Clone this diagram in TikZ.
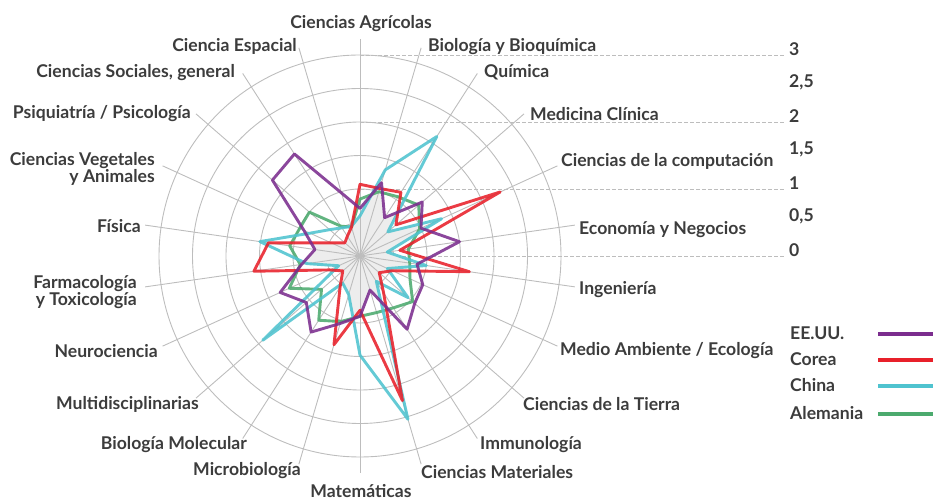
\documentclass[tikz,border=0pt]{standalone}
\usepackage{fontspec}
\setmainfont{Lato}
\usepackage{tikz}
\usetikzlibrary{calc}

\definecolor{usa}{HTML}{7B2D8E}
\definecolor{kor}{HTML}{E8202A}
\definecolor{chn}{HTML}{4FC3CF}
\definecolor{ger}{HTML}{4CAA6E}
\definecolor{txt}{HTML}{3C3C3C}
\definecolor{gridgray}{HTML}{BDBDBD}

\tikzset{
  lab/.style={inner sep=0pt,font=\fontsize{17.6}{16.5}\selectfont\bfseries,text=txt},
  gridline/.style={draw=gridgray,line width=0.9pt},
  series/.style={line width=2.9pt,line join=round,opacity=0.88}
}

% radar corners: name, 22 values
\newcommand{\RadarPts}[2]{%
  \foreach \v [count=\k from 0] in {#2}
    \coordinate (#1\k) at ($(C)+({90-\k*360/22}:{\v*67})$);
}
% closed path through the corners of one series
\newcommand{\RadarPath}[1]{(#10) \foreach \k in {1,...,21}{ -- (#1\k)} -- cycle}

\begin{document}
\begin{tikzpicture}[x=1pt,y=1pt]
  \useasboundingbox (0,0) rectangle (933,500);
  \coordinate (C) at (360,244);

  \RadarPts{ger}{0.85,1.0,1.05,1.16,0.98,0.73,0.75,0.82,1.04,0.92,0.88,0.9,1.02,1.14,0.76,1.16,0.9,1.06,0.99,1.0,0.53,0.45}
  \RadarPts{chn}{0.6,1.34,2.12,0.55,1.34,0.41,1.0,0.45,0.95,0.45,2.54,1.48,0.6,0.48,1.92,0.35,0.8,1.51,0.82,0.6,0.5,0.46}
  \RadarPts{kor}{1.07,1.05,1.13,0.71,2.3,0.6,1.65,0.53,0.38,0.65,2.25,0.81,1.38,0.55,0.34,0.5,1.6,1.38,0.47,0.3,0.35,0.45}
  \RadarPts{usa}{0.71,1.14,0.68,1.23,1.0,1.5,0.86,1.03,1.08,1.3,0.53,0.9,1.05,1.35,1.06,1.31,0.88,0.68,0.92,1.73,1.81,0.98}

  % rings and scale
  \foreach \r in {0.5,1,...,3}
    \draw[gridline] (C) circle ({\r*67});
  \foreach \v/\t in {0/0,0.5/{0,5},1/1,1.5/{1,5},2/2,2.5/{2,5},3/3}{
    \coordinate (s\v) at ($(C)+(0,{\v*67})$);
    \coordinate (t\v) at (785,{244+\v*67});
    \draw[gridgray,line width=0.8pt,dash pattern=on 3.5pt off 2.5pt] (s\v) -- (t\v);
    \node[lab,anchor=west] (n\v) at (789,{250+\v*67}) {\t};
  }

  % common core of the four series
  \begin{scope}
    \clip \RadarPath{ger};
    \clip \RadarPath{chn};
    \clip \RadarPath{kor};
    \fill[black!7] \RadarPath{usa};
  \end{scope}

  % spokes
  \foreach \k in {0,...,21}{
    \coordinate (e\k) at ($(C)+({90-\k*360/22}:217)$);
    \draw[gridline] (C) -- (e\k);
  }

  % labels
  \node[lab] (agr) at (361,476) {Ciencias Agrícolas};
  \node[lab,anchor=west] (bio) at (428,453) {Biología y Bioquímica};
  \node[lab,anchor=west] (qui) at (484,428) {Química};
  \node[lab,anchor=west] (med) at (530,386) {Medicina Clínica};
  \node[lab,anchor=west] (com) at (561,339) {Ciencias de la computación};
  \node[lab,anchor=west] (eco) at (579,270) {Economía y Negocios};
  \node[lab,anchor=west] (ing) at (579,210) {Ingeniería};
  \node[lab,anchor=west] (amb) at (560,149) {Medio Ambiente / Ecología};
  \node[lab,anchor=west] (tie) at (523,96) {Ciencias de la Tierra};
  \node[lab,anchor=west] (inm) at (480,55) {Immunología};
  \node[lab,anchor=west] (mat) at (421,28) {Ciencias Materiales};
  \node[lab] (mtm) at (361,9) {Matemáticas};
  \node[lab,anchor=east] (mic) at (301,29) {Microbiología};
  \node[lab,anchor=east] (mol) at (247,55) {Biología Molecular};
  \node[lab,anchor=east] (mul) at (199,96) {Multidisciplinarias};
  \node[lab,anchor=east] (neu) at (158,149) {Neurociencia};
  \node[lab,anchor=east,align=right] (far) at (137,208) {Farmacología\\y Toxicología};
  \node[lab,anchor=east] (fis) at (141,274) {Física};
  \node[lab,anchor=east,align=right] (veg) at (155,331) {Ciencias Vegetales\\y Animales};
  \node[lab,anchor=east] (psi) at (191,386) {Psiquiatría / Psicología};
  \node[lab,anchor=east] (soc) at (235,427) {Ciencias Sociales, general};
  \node[lab,anchor=east] (esp) at (297,454) {Ciencia Espacial};

  % data
  \draw[series,draw=ger] \RadarPath{ger};
  \draw[series,draw=chn] \RadarPath{chn};
  \draw[series,draw=kor] \RadarPath{kor};
  \draw[series,draw=usa] \RadarPath{usa};

  % legend
  \foreach \c/\n/\y [count=\i] in {usa/EE.UU./166,kor/Corea/140,chn/China/114,ger/Alemania/86}{
    \node[lab,anchor=west] (l\i) at (790,{\y+1}) {\n};
    \coordinate (la\i) at (878,\y);
    \coordinate (lb\i) at (933,\y);
    \draw[\c,line width=3.6pt] (la\i) -- (lb\i);
  }
\end{tikzpicture}
\end{document}
